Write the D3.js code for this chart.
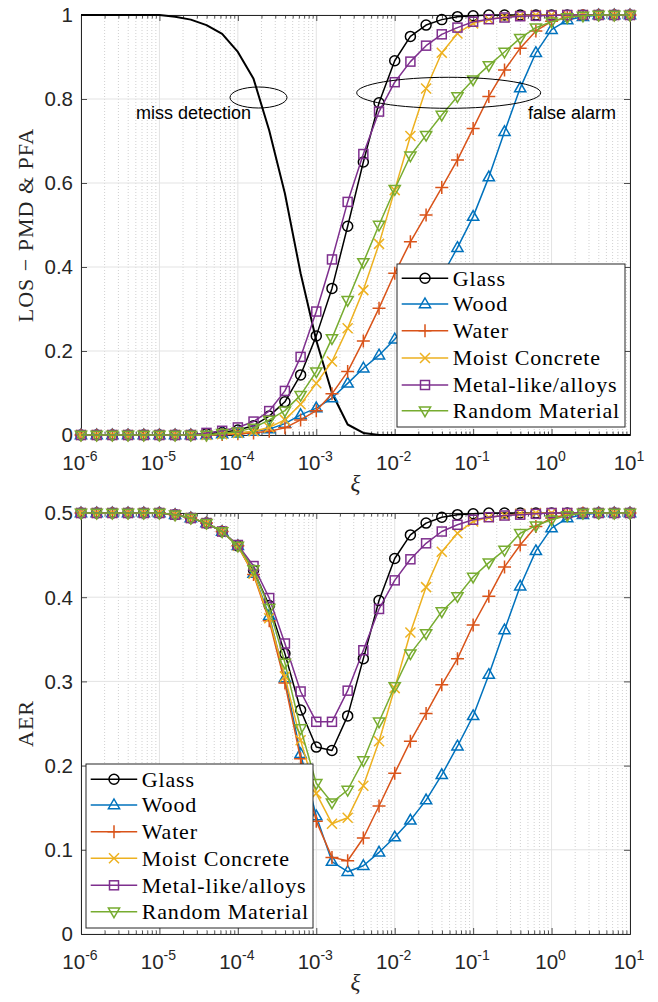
<!DOCTYPE html>
<html><head><meta charset="utf-8">
<script src="https://cdn.jsdelivr.net/npm/d3@7"></script>
<style>body{margin:0;background:#fff}svg{display:block}</style>
</head><body>
<script>
// ---------------- data ----------------
const xiExponents = [-6,-5.8,-5.6,-5.4,-5.2,-5,-4.8,-4.6,-4.4,-4.2,-4,-3.8,-3.6,-3.4,-3.2,-3,-2.8,-2.6,-2.4,-2.2,-2,-1.8,-1.6,-1.4,-1.2,-1,-0.8,-0.6,-0.4,-0.2,0,0.2,0.4,0.6,0.8,1];
const seriesNames = ["Glass","Wood","Water","Moist Concrete","Metal-like/alloys","Random Material"];
const seriesColors = ["#000000","#0072BD","#D95319","#EDB120","#7E2F8E","#77AC30"];
const seriesMarkers = ["circle","triUp","plus","cross","square","triDown"];

const missDetection = [1,1,1,1,1,1,0.996,0.989,0.976,0.955,0.912,0.848,0.725,0.575,0.385,0.225,0.1,0.025,0.005,0,0,0,0,0,0,0,0,0,0,0,0,0,0,0,0,0];

const pfaGlass  = [0,0,0,0,0,0,0,0,0.003,0.006,0.012,0.022,0.045,0.079,0.143,0.236,0.349,0.497,0.65,0.791,0.891,0.949,0.976,0.989,0.996,0.998,1,1,1,1,1,1,1,1,1,1];
const pfaWood   = [0,0,0,0,0,0,0,0,0,0.002,0.004,0.008,0.014,0.027,0.048,0.064,0.088,0.123,0.159,0.19,0.228,0.27,0.318,0.378,0.446,0.52,0.614,0.722,0.826,0.91,0.965,0.988,0.996,1,1,1];
const pfaWater  = [0,0,0,0,0,0,0,0,0,0.001,0.003,0.005,0.009,0.017,0.036,0.058,0.098,0.151,0.224,0.302,0.385,0.46,0.524,0.589,0.655,0.73,0.806,0.869,0.921,0.962,0.985,0.995,0.999,1,1,1];
const pfaMoist  = [0,0,0,0,0,0,0,0,0,0.002,0.005,0.009,0.018,0.036,0.073,0.123,0.175,0.254,0.345,0.455,0.583,0.712,0.825,0.91,0.956,0.98,0.99,0.995,0.998,1,1,1,1,1,1,1];
const pfaMetal  = [0,0,0,0,0,0,0,0,0.005,0.01,0.018,0.032,0.057,0.105,0.186,0.294,0.418,0.555,0.669,0.77,0.84,0.889,0.927,0.954,0.97,0.984,0.99,0.994,0.997,0.998,0.999,1,1,1,1,1];
const pfaRandom = [0,0,0,0,0,0,0,0,0,0.004,0.008,0.017,0.036,0.058,0.095,0.151,0.23,0.321,0.411,0.5,0.585,0.665,0.714,0.762,0.806,0.846,0.88,0.912,0.945,0.97,0.984,0.994,0.998,1,1,1];

const aerGlass  = [0.5,0.5,0.5,0.5,0.5,0.5,0.498,0.494,0.488,0.478,0.461,0.432,0.39,0.333,0.266,0.222,0.218,0.259,0.327,0.396,0.446,0.474,0.488,0.495,0.498,0.499,0.5,0.5,0.5,0.5,0.5,0.5,0.5,0.5,0.5,0.5];
const aerWood   = [0.5,0.5,0.5,0.5,0.5,0.5,0.498,0.494,0.488,0.478,0.461,0.428,0.378,0.304,0.214,0.14,0.086,0.074,0.081,0.097,0.115,0.135,0.159,0.189,0.223,0.259,0.308,0.361,0.413,0.455,0.482,0.494,0.498,0.5,0.5,0.5];
const aerWater  = [0.5,0.5,0.5,0.5,0.5,0.5,0.498,0.494,0.488,0.478,0.461,0.427,0.372,0.298,0.208,0.134,0.091,0.087,0.114,0.152,0.191,0.229,0.262,0.296,0.327,0.367,0.401,0.436,0.462,0.484,0.494,0.498,0.5,0.5,0.5,0.5];
const aerMoist  = [0.5,0.5,0.5,0.5,0.5,0.5,0.498,0.494,0.488,0.478,0.461,0.428,0.375,0.306,0.23,0.167,0.131,0.138,0.176,0.229,0.292,0.358,0.412,0.454,0.476,0.49,0.495,0.497,0.499,0.5,0.5,0.5,0.5,0.5,0.5,0.5];
const aerMetal  = [0.5,0.5,0.5,0.5,0.5,0.5,0.498,0.494,0.488,0.478,0.462,0.437,0.399,0.345,0.288,0.252,0.252,0.289,0.337,0.386,0.42,0.445,0.464,0.478,0.486,0.492,0.495,0.497,0.498,0.499,0.5,0.5,0.5,0.5,0.5,0.5];
const aerRandom = [0.5,0.5,0.5,0.5,0.5,0.5,0.498,0.494,0.488,0.478,0.461,0.433,0.387,0.322,0.244,0.179,0.156,0.171,0.206,0.252,0.294,0.333,0.357,0.383,0.401,0.424,0.441,0.456,0.476,0.485,0.492,0.497,0.5,0.5,0.5,0.5];

const xTickExponents = [-6,-5,-4,-3,-2,-1,0,1];
const topYTicks = [0,0.2,0.4,0.6,0.8,1];
const topYTickLabels = ["0","0.2","0.4","0.6","0.8","1"];
const botYTicks = [0,0.1,0.2,0.3,0.4,0.5];
const botYTickLabels = ["0","0.1","0.2","0.3","0.4","0.5"];

// ---------------- drawing ----------------
const W = 658, H = 1002;
const svg = d3.select("body").append("svg").attr("width", W).attr("height", H);
const AX = "#262626";
const SERIF = "Liberation Serif, Times New Roman, serif";
const SANS = "Liberation Sans, Arial, sans-serif";
const xi = xiExponents.map(e => Math.pow(10, e));
const x = d3.scaleLog().domain([1e-6, 10]).range([81, 630]);

function drawMarker(g, type, cx, cy, color) {
  const s = g.append("g").attr("transform", `translate(${cx},${cy})`)
    .attr("fill", "none").attr("stroke", color).attr("stroke-width", 1.5);
  if (type === "circle") s.append("circle").attr("r", 5);
  else if (type === "square") s.append("rect").attr("x", -4.5).attr("y", -4.5).attr("width", 9).attr("height", 9);
  else if (type === "triUp") s.append("path").attr("d", "M0,-6L5.6,3.7L-5.6,3.7Z");
  else if (type === "triDown") s.append("path").attr("d", "M0,6L5.6,-3.7L-5.6,-3.7Z");
  else if (type === "plus") s.append("path").attr("d", "M-6.5,0H6.5M0,-6.5V6.5");
  else if (type === "cross") s.append("path").attr("d", "M-5,-5L5,5M-5,5L5,-5");
}

function drawPanel(cfg) {
  const y = d3.scaleLinear().domain(cfg.domain).range([cfg.yBottom, cfg.yTop]);
  const g = svg.append("g");
  const [xl, xr] = x.range();
  const xMinor = [];
  for (let d = -6; d < 1; d++) for (let m = 2; m <= 9; m++) xMinor.push(m * Math.pow(10, d));
  const xMajor = xTickExponents.map(e => Math.pow(10, e));
  xMinor.forEach(v => {
    g.append("line").attr("x1", x(v)).attr("x2", x(v)).attr("y1", cfg.yTop).attr("y2", cfg.yBottom)
      .attr("stroke", "#c4c4c4").attr("stroke-width", 0.8).attr("stroke-dasharray", "1,2");
  });
  xMajor.forEach(v => {
    g.append("line").attr("x1", x(v)).attr("x2", x(v)).attr("y1", cfg.yTop).attr("y2", cfg.yBottom)
      .attr("stroke", "#e3e3e3").attr("stroke-width", 1);
  });
  cfg.ticks.forEach(t => {
    g.append("line").attr("x1", xl).attr("x2", xr).attr("y1", y(t)).attr("y2", y(t))
      .attr("stroke", "#e3e3e3").attr("stroke-width", 1);
  });
  const axes = [
    [d3.axisBottom(x).tickValues(xMajor).tickSizeInner(-6), `translate(0,${cfg.yBottom})`],
    [d3.axisBottom(x).tickValues(xMinor).tickSizeInner(-3.5), `translate(0,${cfg.yBottom})`],
    [d3.axisTop(x).tickValues(xMajor).tickSizeInner(-6), `translate(0,${cfg.yTop})`],
    [d3.axisTop(x).tickValues(xMinor).tickSizeInner(-3.5), `translate(0,${cfg.yTop})`],
    [d3.axisLeft(y).tickValues(cfg.ticks).tickSizeInner(-6), `translate(${xl},0)`],
    [d3.axisRight(y).tickValues(cfg.ticks).tickSizeInner(-6), `translate(${xr},0)`]
  ];
  const axG = svg.append("g");
  axes.forEach(([ax, tr]) => {
    const a = axG.append("g").attr("transform", tr).call(ax.tickSizeOuter(0).tickFormat(""));
    a.selectAll("path.domain").attr("stroke", AX).attr("stroke-width", 1);
    a.selectAll(".tick line").attr("stroke", AX).attr("stroke-width", 0.8);
  });

  xTickExponents.forEach(e => {
    const t = axG.append("text").attr("x", x(Math.pow(10, e)) - 1).attr("y", cfg.yBottom + 35)
      .attr("text-anchor", "middle").attr("font-family", SANS)
      .attr("font-size", 20.5).attr("fill", AX);
    t.append("tspan").text("10");
    t.append("tspan").attr("font-size", 14).attr("dy", -9).text(String(e));
  });
  cfg.ticks.forEach((tv, i) => {
    axG.append("text").attr("x", xl - 8).attr("y", y(tv)).attr("dy", "0.36em")
      .attr("text-anchor", "end").attr("font-family", SANS)
      .attr("font-size", 20.5).attr("fill", AX).text(cfg.tickLabels[i]);
  });
  axG.append("text").attr("transform", `translate(33,${(cfg.yTop + cfg.yBottom) / 2}) rotate(-90)`)
    .attr("text-anchor", "middle").attr("font-family", SERIF)
    .attr("font-size", 22).attr("letter-spacing", 1.0).attr("fill", AX).text(cfg.ylabel);
  axG.append("text").attr("x", (xl + xr) / 2).attr("y", cfg.yBottom + 56)
    .attr("text-anchor", "middle").attr("font-family", SERIF)
    .attr("font-style", "italic").attr("font-size", 23).attr("fill", AX).text("ξ");

  const line = d3.line().x((d, i) => x(xi[i])).y(d => y(d));
  if (cfg.extra) {
    svg.append("path").attr("d", line(cfg.extra)).attr("fill", "none")
      .attr("stroke", "#000").attr("stroke-width", 2).attr("stroke-linejoin", "round");
  }
  cfg.series.forEach((vals, si) => {
    const sg = svg.append("g");
    sg.append("path").attr("d", line(vals)).attr("fill", "none")
      .attr("stroke", seriesColors[si]).attr("stroke-width", 1.5).attr("stroke-linejoin", "round");
    vals.forEach((v, i) => drawMarker(sg, seriesMarkers[si], x(xi[i]), y(v), seriesColors[si]));
  });
  return y;
}

drawPanel({
  domain: [0, 1], yBottom: 435, yTop: 15, ticks: topYTicks, tickLabels: topYTickLabels,
  ylabel: "LOS − PMD & PFA", extra: missDetection,
  series: [pfaGlass, pfaWood, pfaWater, pfaMoist, pfaMetal, pfaRandom]
});
drawPanel({
  domain: [0, 0.5], yBottom: 934, yTop: 513, ticks: botYTicks, tickLabels: botYTickLabels,
  ylabel: "AER",
  series: [aerGlass, aerWood, aerWater, aerMoist, aerMetal, aerRandom]
});

svg.append("ellipse").attr("cx", 258.5).attr("cy", 97.5).attr("rx", 28.5).attr("ry", 10.5)
  .attr("fill", "none").attr("stroke", "#000").attr("stroke-width", 1);
svg.append("ellipse").attr("cx", 448.7).attr("cy", 92.8).attr("rx", 92).attr("ry", 15.5)
  .attr("fill", "none").attr("stroke", "#000").attr("stroke-width", 1);
svg.append("text").attr("x", 136).attr("y", 119).attr("font-family", SANS)
  .attr("font-size", 18).attr("fill", "#000").text("miss detection");
svg.append("text").attr("x", 528).attr("y", 119).attr("font-family", SANS)
  .attr("font-size", 18).attr("fill", "#000").text("false alarm");

function drawLegend(x0, y0, w, h, rowYs, lineX0) {
  const g = svg.append("g");
  g.append("rect").attr("x", x0).attr("y", y0).attr("width", w).attr("height", h)
    .attr("fill", "#fff").attr("stroke", AX).attr("stroke-width", 1);
  seriesNames.forEach((name, i) => {
    const yy = rowYs[i];
    g.append("line").attr("x1", lineX0).attr("x2", lineX0 + 46.5).attr("y1", yy).attr("y2", yy)
      .attr("stroke", seriesColors[i]).attr("stroke-width", 1.5);
    drawMarker(g, seriesMarkers[i], lineX0 + 23.3, yy, seriesColors[i]);
    g.append("text").attr("x", lineX0 + 51).attr("y", yy).attr("dy", "0.33em")
      .attr("font-family", SERIF).attr("font-size", 22)
      .attr("letter-spacing", 0.85).attr("fill", "#000").text(name);
  });
}
drawLegend(397, 264, 228, 163, [278.3, 304, 330.7, 358, 385, 410.7], 401.7);
drawLegend(86, 764, 227, 164, [779.3, 805, 831.7, 858.3, 885.3, 911.7], 90.7);
</script>
</body></html>
